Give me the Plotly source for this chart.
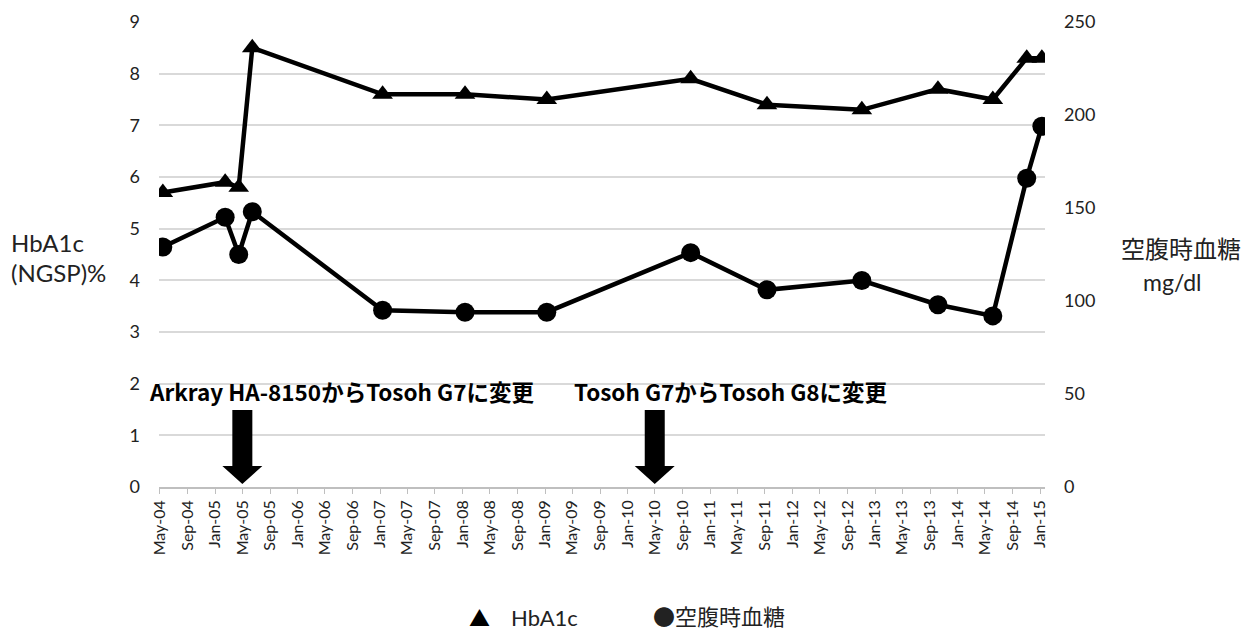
import plotly.graph_objects as go

# ---- data ----
hba1c_dates = ["2004-05-14", "2005-02-14", "2005-04-15", "2005-06-14", "2007-01-12",
               "2008-01-12", "2009-01-08", "2010-10-07", "2011-09-10", "2012-11-03",
               "2013-10-06", "2014-06-06", "2014-11-03", "2015-01-09"]
hba1c_values = [5.7, 5.9, 5.8, 8.5, 7.6, 7.6, 7.5, 7.9, 7.4, 7.3, 7.7, 7.5, 8.3, 8.3]

glucose_dates = hba1c_dates
glucose_values = [129, 145, 125, 148, 95, 94, 94, 126, 106, 111, 98, 92, 166, 194]

left_ticks = [0, 1, 2, 3, 4, 5, 6, 7, 8, 9]
right_ticks = [0, 50, 100, 150, 200, 250]

event_dates = ["2005-05-01", "2010-05-01"]
event_labels = ["Arkray HA-8150からTosoh G7に変更", "Tosoh G7からTosoh G8に変更"]

legend_symbols = ["▲", "●"]
legend_labels = ["HbA1c", "空腹時血糖"]
left_title = ["HbA1c", "(NGSP)%"]
right_title = ["空腹時血糖", "mg/dl"]

FONT = "Lato, 'Noto Sans CJK JP', sans-serif"
JFONT = "'Noto Sans CJK JP', Lato, sans-serif"
TXT = "#222222"

# page body has an 8px margin; the figure sits at (8, 8) in the window
OFF = 8
W, H = 1256, 630
PL, PR, PT, PB = 159, 1045, 22, 487          # plot area in window pixels
PW, PH = PR - PL, PB - PT


def px(xw):
    return (xw - PL) / PW


def py(yw):
    return (PB - yw) / PH


fig = go.Figure()
fig.add_trace(go.Scatter(
    x=hba1c_dates, y=hba1c_values, mode="lines+markers", name="HbA1c",
    line=dict(color="black", width=4.5),
    marker=dict(symbol="triangle-up", size=18, color="black"),
    showlegend=False, yaxis="y"))
fig.add_trace(go.Scatter(
    x=glucose_dates, y=glucose_values, mode="lines+markers", name="空腹時血糖",
    line=dict(color="black", width=4.5),
    marker=dict(symbol="circle", size=19, color="black"),
    showlegend=False, yaxis="y2"))

# arrows marking device changes (pixel-sized paths anchored at the event dates)
arrow_path = "M -10 77 L 10 77 L 10 21 L 20 21 L 0 3 L -20 21 L -10 21 Z"
for d in event_dates:
    fig.add_shape(type="path", xref="x", yref="y", xsizemode="pixel", ysizemode="pixel",
                  xanchor=d, yanchor=0, path=arrow_path,
                  fillcolor="black", line=dict(color="black", width=0))

fig.add_annotation(text="<b>" + event_labels[0] + "</b>", xref="paper", yref="paper",
                   x=px(147), y=py(391), xanchor="left", yanchor="middle", showarrow=False,
                   font=dict(family=JFONT, size=22.5, color="black"))
fig.add_annotation(text="<b>" + event_labels[1] + "</b>", xref="paper", yref="paper",
                   x=px(572), y=py(391), xanchor="left", yanchor="middle", showarrow=False,
                   font=dict(family=JFONT, size=22.5, color="black"))

# axis titles
fig.add_annotation(text=left_title[0], xref="paper", yref="paper", x=px(9), y=py(242),
                   xanchor="left", yanchor="middle", showarrow=False,
                   font=dict(family=FONT, size=24, color=TXT))
fig.add_annotation(text=left_title[1], xref="paper", yref="paper", x=px(9), y=py(272),
                   xanchor="left", yanchor="middle", showarrow=False,
                   font=dict(family=FONT, size=24, color=TXT))
fig.add_annotation(text=right_title[0], xref="paper", yref="paper", x=px(1181), y=py(247),
                   xanchor="center", yanchor="middle", showarrow=False,
                   font=dict(family=JFONT, size=24, color=TXT))
fig.add_annotation(text=right_title[1], xref="paper", yref="paper", x=px(1172), y=py(282),
                   xanchor="center", yanchor="middle", showarrow=False,
                   font=dict(family=FONT, size=23, color=TXT))

# legend (symbol + label)
fig.add_annotation(text=legend_symbols[0], xref="paper", yref="paper", x=px(467), y=py(617),
                   xanchor="left", yanchor="middle", showarrow=False,
                   font=dict(family=FONT, size=21, color="black"))
fig.add_annotation(text=legend_labels[0], xref="paper", yref="paper", x=px(509), y=py(617),
                   xanchor="left", yanchor="middle", showarrow=False,
                   font=dict(family=FONT, size=22, color=TXT))
fig.add_annotation(text=legend_symbols[1] + legend_labels[1], xref="paper", yref="paper", x=px(651), y=py(615),
                   xanchor="left", yanchor="middle", showarrow=False,
                   font=dict(family=JFONT, size=22, color=TXT))

fig.update_layout(
    width=W, height=H,
    margin=dict(l=PL - OFF, r=W - (PR - OFF), t=PT - OFF, b=H - (PB - OFF), autoexpand=False),
    paper_bgcolor="white", plot_bgcolor="white",
    showlegend=False,
    xaxis=dict(type="date", range=["2004-04-27", "2015-01-23"],
               tick0="2004-05-01", dtick="M4", tickformat="%b-%y", tickangle=-90,
               ticks="outside", ticklen=5, tickcolor="#bfbfbf",
               showline=True, linecolor="#bfbfbf", linewidth=1.5,
               showgrid=False, zeroline=False, automargin=False,
               tickfont=dict(family=FONT, size=16, color=TXT)),
    yaxis=dict(range=[0, 9], tickvals=left_ticks, showgrid=True, gridcolor="#d9d9d9", gridwidth=1.5,
               zeroline=False, showline=False, ticklabelstandoff=18, automargin=False,
               tickfont=dict(family=FONT, size=18, color=TXT)),
    yaxis2=dict(range=[0, 250], tickvals=right_ticks, overlaying="y", side="right",
                showgrid=False, zeroline=False, showline=False, ticklabelstandoff=18, automargin=False,
                tickfont=dict(family=FONT, size=18, color=TXT)),
)

fig.write_html("out.html")
